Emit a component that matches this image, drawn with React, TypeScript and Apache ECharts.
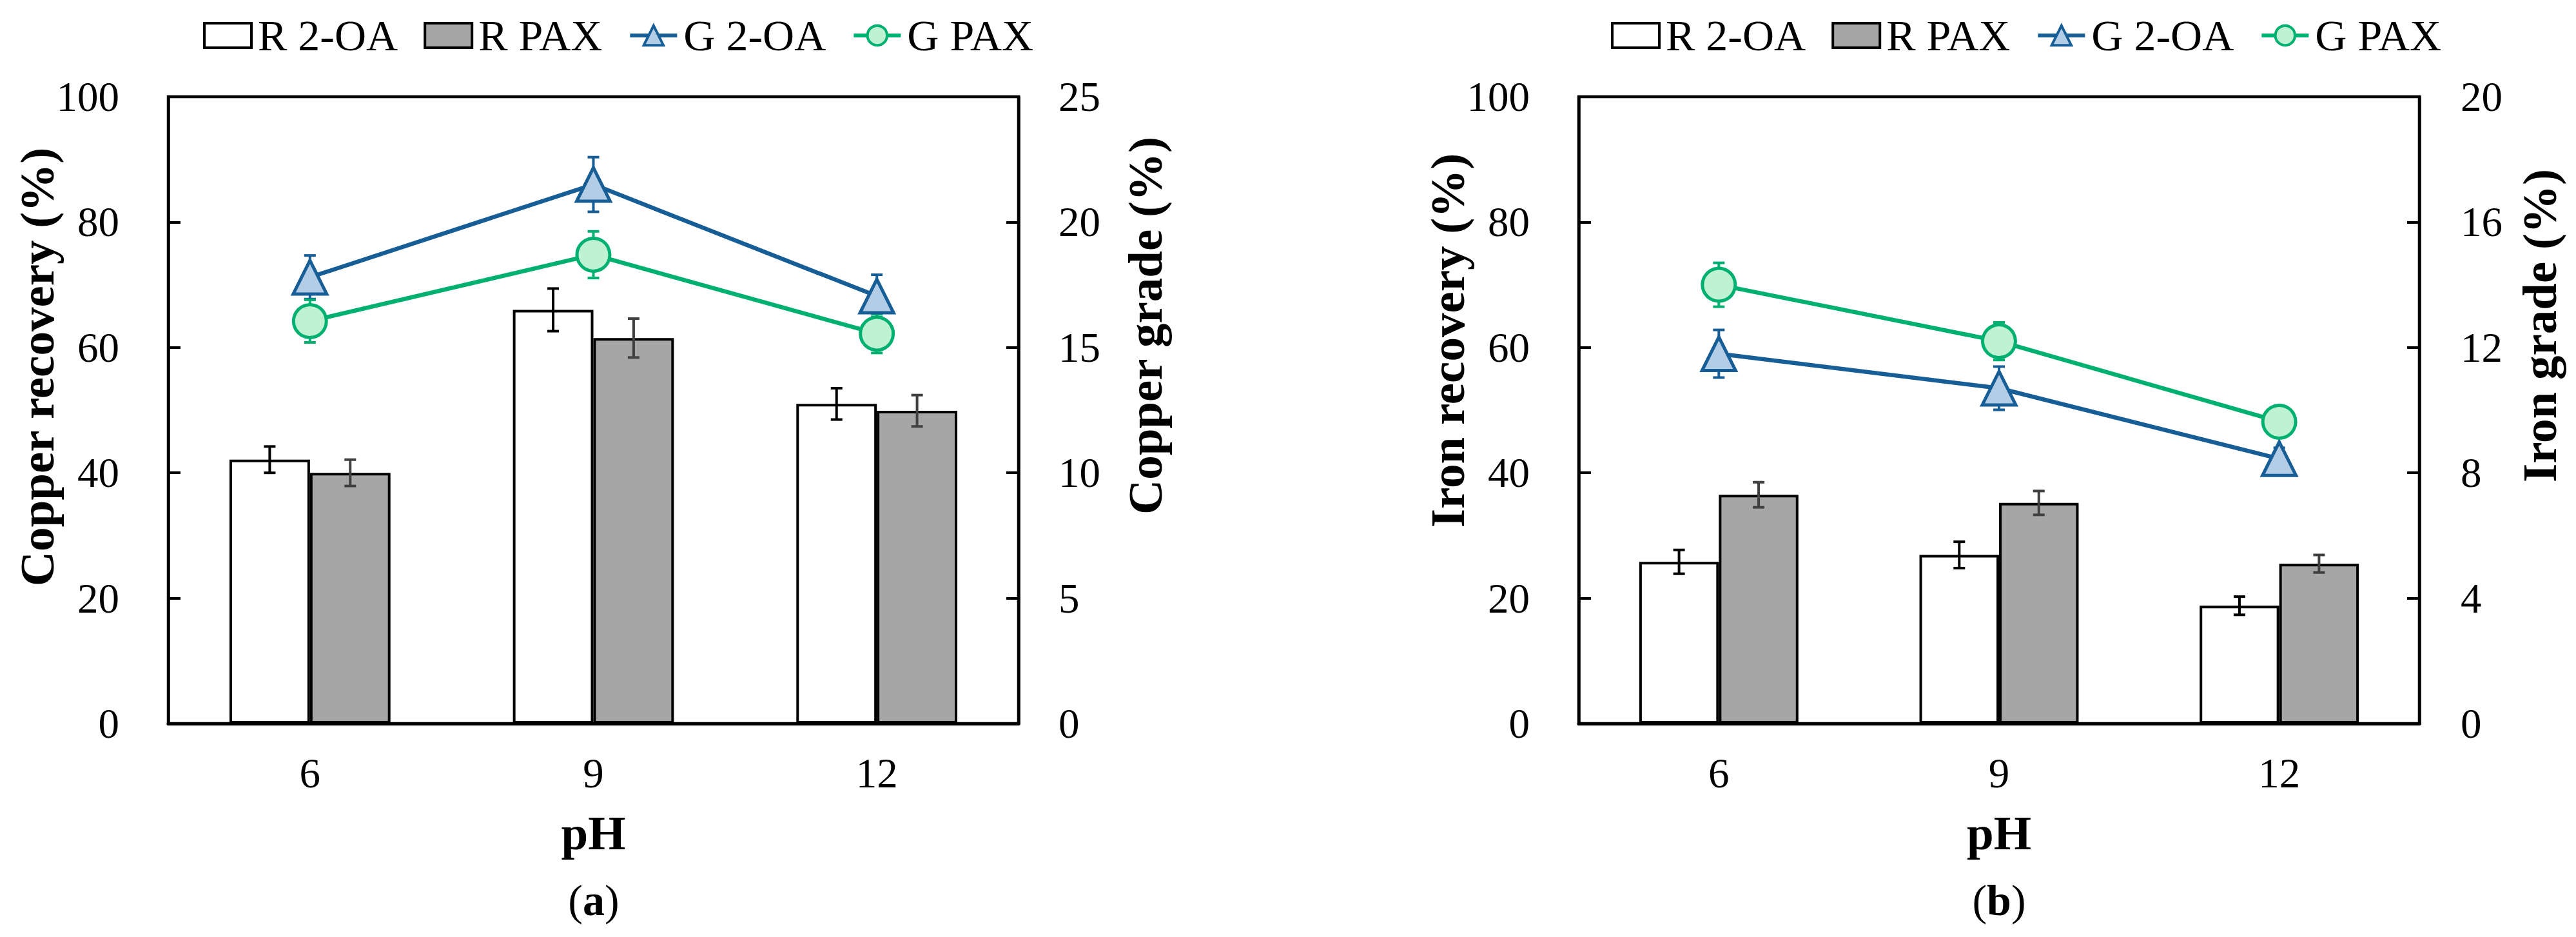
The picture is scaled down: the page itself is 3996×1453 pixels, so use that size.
import React, { useEffect, useRef } from 'react';
import * as echarts from 'echarts';

const phLabels = ['6', '9', '12'];
const legendNames = ['R 2-OA', 'R PAX', 'G 2-OA', 'G PAX'];

// (a) copper: recovery bars (left axis), grade lines (right axis)
const cuRec2OA = [42.1, 66.0, 51.0];
const cuRec2OAErr = [2.1, 3.4, 2.5];
const cuRecPAX = [40.0, 61.5, 49.9];
const cuRecPAXErr = [2.1, 3.1, 2.5];
const cuGrade2OA = [17.8, 21.5, 17.05];
const cuGrade2OAErr = [0.87, 1.09, 0.85];
const cuGradePAX = [16.05, 18.7, 15.55];
const cuGradePAXErr = [0.85, 0.93, 0.77];

// (b) iron
const feRec2OA = [25.8, 26.9, 18.8];
const feRec2OAErr = [1.9, 2.1, 1.45];
const feRecPAX = [36.5, 35.2, 25.5];
const feRecPAXErr = [2.0, 1.9, 1.4];
const feGrade2OA = [11.8, 10.7, 8.45];
const feGrade2OAErr = [0.76, 0.69, 0.35];
const feGradePAX = [14.0, 12.2, 9.63];
const feGradePAXErr = [0.7, 0.6, 0.3];

const serif = '"Liberation Serif", "Times New Roman", serif';
const blue = '#175E96';
const blueFill = '#B4CDE6';
const green = '#00B070';
const greenFill = '#BFF2D3';
const grey = '#A6A6A6';

const errBars = (xi: number, yi: number, vals: number[], errs: number[], shift: number, color: string, z: number) => ({
  type: 'custom',
  xAxisIndex: xi,
  yAxisIndex: yi,
  z,
  silent: true,
  data: vals.map((v, i) => [i, v, errs[i]]),
  encode: { x: 0, y: 1 },
  renderItem: (params: any, api: any) => {
    const x = api.value(0);
    const y = api.value(1);
    const e = api.value(2);
    const band = api.size([1, 0])[0];
    const top = api.coord([x, y + e]);
    const bot = api.coord([x, y - e]);
    const cx = top[0] + shift * band;
    const cap = 9;
    const st = { stroke: color, lineWidth: 4 };
    return {
      type: 'group',
      children: [
        { type: 'line', shape: { x1: cx, y1: top[1], x2: cx, y2: bot[1] }, style: st },
        { type: 'line', shape: { x1: cx - cap, y1: top[1], x2: cx + cap, y2: top[1] }, style: st },
        { type: 'line', shape: { x1: cx - cap, y1: bot[1], x2: cx + cap, y2: bot[1] }, style: st },
      ],
    };
  },
});

const panelSeries = (p: number, r2: number[], r2e: number[], rp: number[], rpe: number[], g2: number[], g2e: number[], gp: number[], gpe: number[]) => [
  {
    name: 'R 2-OA', type: 'bar', xAxisIndex: p, yAxisIndex: 2 * p, data: r2,
    barWidth: '28.4%', barGap: '0%', z: 2,
    itemStyle: { color: '#fff', borderColor: '#000', borderWidth: 4 },
  },
  {
    name: 'R PAX', type: 'bar', xAxisIndex: p, yAxisIndex: 2 * p, data: rp,
    barWidth: '28.4%', barGap: '0%', z: 2,
    itemStyle: { color: grey, borderColor: '#000', borderWidth: 4 },
  },
  errBars(p, 2 * p, r2, r2e, -0.142, '#000', 3),
  errBars(p, 2 * p, rp, rpe, 0.142, '#404040', 3),
  errBars(p, 2 * p + 1, g2, g2e, 0, blue, 4),
  errBars(p, 2 * p + 1, gp, gpe, 0, green, 4),
  {
    name: 'G 2-OA', type: 'line', xAxisIndex: p, yAxisIndex: 2 * p + 1, data: g2, z: 5,
    symbol: 'triangle', symbolSize: 52,
    lineStyle: { color: blue, width: 6.5 },
    itemStyle: { color: blueFill, borderColor: blue, borderWidth: 5 },
  },
  {
    name: 'G PAX', type: 'line', xAxisIndex: p, yAxisIndex: 2 * p + 1, data: gp, z: 5,
    symbol: 'circle', symbolSize: 51,
    lineStyle: { color: green, width: 6.5 },
    itemStyle: { color: greenFill, borderColor: green, borderWidth: 5 },
  },
];

const xAxisFor = (p: number) => ({
  type: 'category', gridIndex: p, data: phLabels,
  axisLine: { lineStyle: { color: '#000', width: 5 } },
  axisTick: { inside: true, length: 19, lineStyle: { color: '#000', width: 4 } },
  axisLabel: { fontSize: 65, fontFamily: serif, color: '#000', margin: 44 },
  name: 'pH', nameLocation: 'middle', nameGap: 132,
  nameTextStyle: { fontSize: 75, fontWeight: 'bold', fontFamily: serif, color: '#000' },
});

const yAxisFor = (p: number, position: string, max: number, interval: number, margin: number) => ({
  type: 'value', gridIndex: p, position, min: 0, max, interval,
  axisLine: { show: true, lineStyle: { color: '#000', width: 4.5 } },
  axisTick: { show: true, inside: true, length: 19, lineStyle: { color: '#000', width: 4 } },
  axisLabel: { fontSize: 65, fontFamily: serif, color: '#000', margin },
  splitLine: { show: false },
});

const yTitle = (text: string, x: number, y: number) => ({
  type: 'text', x, y, rotation: Math.PI / 2,
  style: { text, fontSize: 75, fontWeight: 'bold', fontFamily: serif, fill: '#000', align: 'center', verticalAlign: 'middle' },
});

const panelTag = (letter: string, x: number) => ({
  type: 'text', x, y: 1396,
  style: {
    text: `{n|(}{b|${letter}}{n|)}`,
    align: 'center', verticalAlign: 'middle',
    rich: {
      n: { fontSize: 68, fontFamily: serif, fill: '#000' },
      b: { fontSize: 68, fontFamily: serif, fontWeight: 'bold', fill: '#000' },
    },
  },
});

export default function App() {
  const ref = useRef<HTMLDivElement>(null);

  useEffect(() => {
    document.body.style.margin = '0';
    if (!ref.current) return;
    const chart = echarts.init(ref.current, null, { renderer: 'svg' });
    chart.setOption({
      animation: false,
      backgroundColor: '#fff',
      grid: [
        { left: 261, top: 150, width: 1319, height: 972, show: true, borderColor: '#000', borderWidth: 4.5, backgroundColor: 'transparent' },
        { left: 2449, top: 150, width: 1304, height: 972, show: true, borderColor: '#000', borderWidth: 4.5, backgroundColor: 'transparent' },
      ],
      legend: [310, 2494].map((left) => ({
        left, top: 16, itemWidth: 73, itemHeight: 38, itemGap: 40,
        data: legendNames.map((name, i) => (i < 2 ? { name, icon: 'rect' } : name)),
        selectedMode: false,
        itemStyle: { borderWidth: 4 },
        lineStyle: { width: 6 },
        textStyle: { fontSize: 68, fontFamily: serif, color: '#000', padding: [0, 0, 0, 5] },
      })),
      xAxis: [xAxisFor(0), xAxisFor(1)],
      yAxis: [
        yAxisFor(0, 'left', 100, 20, 76),
        yAxisFor(0, 'right', 25, 5, 62),
        yAxisFor(1, 'left', 100, 20, 76),
        yAxisFor(1, 'right', 20, 4, 64),
      ],
      series: [
        ...panelSeries(0, cuRec2OA, cuRec2OAErr, cuRecPAX, cuRecPAXErr, cuGrade2OA, cuGrade2OAErr, cuGradePAX, cuGradePAXErr),
        ...panelSeries(1, feRec2OA, feRec2OAErr, feRecPAX, feRecPAXErr, feGrade2OA, feGrade2OAErr, feGradePAX, feGradePAXErr),
      ],
      graphic: [
        yTitle('Copper recovery (%)', 57, 569),
        yTitle('Copper grade (%)', 1776, 505),
        yTitle('Iron recovery (%)', 2245, 528),
        yTitle('Iron grade (%)', 3939, 505),
        panelTag('a', 921),
        panelTag('b', 3101),
      ],
    });
    return () => chart.dispose();
  }, []);

  return <div ref={ref} style={{ width: 3996, height: 1453 }} />;
}
